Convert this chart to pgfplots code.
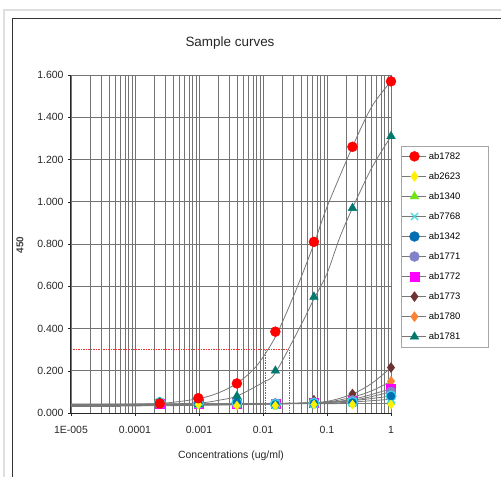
\documentclass[border=0pt]{standalone}
\usepackage{pgfplots}
\pgfplotsset{compat=1.18}
\usepackage{fontspec}
\setmainfont{Liberation Sans}
\definecolor{gridc}{RGB}{115,115,115}
\definecolor{curvec}{RGB}{120,120,120}
\definecolor{guide}{RGB}{240,50,50}
\definecolor{c1782}{RGB}{255,0,0}
\definecolor{c2623}{RGB}{255,240,0}
\definecolor{c1340}{RGB}{110,230,20}
\definecolor{c7768}{RGB}{60,220,230}
\definecolor{c1342}{RGB}{0,110,180}
\definecolor{c1771}{RGB}{130,130,200}
\definecolor{c1772}{RGB}{255,0,255}
\definecolor{c1773}{RGB}{110,50,50}
\definecolor{c1780}{RGB}{250,130,50}
\definecolor{c1781}{RGB}{0,120,110}
\begin{document}
\begin{tikzpicture}
\useasboundingbox (-71bp,-64bp) rectangle (430bp,413bp);
% outer frame
\fill[gray!25] (-68bp,-64bp) rectangle (-66bp,404bp);
\fill[gray!25] (-66bp,402bp) rectangle (430bp,404bp);
\draw[black!80, line width=1.2bp] (-58.5bp,-64bp) -- (-58.5bp,394.5bp) -- (430bp,394.5bp);
\begin{axis}[
    at={(0,0)}, anchor=south west,
    scale only axis,
    width=320bp, height=338bp,
    xmode=log,
    xmin=1e-5, xmax=1,
    ymin=0, ymax=1.6,
    log basis x=10,
    xtick={1e-5,1e-4,1e-3,1e-2,1e-1,1},
    xticklabels={1E-005,0.0001,0.001,0.01,0.1,1},
    minor xtick={2e-5,3e-5,4e-5,5e-5,6e-5,7e-5,8e-5,9e-5,
                 2e-4,3e-4,4e-4,5e-4,6e-4,7e-4,8e-4,9e-4,
                 2e-3,3e-3,4e-3,5e-3,6e-3,7e-3,8e-3,9e-3,
                 0.02,0.03,0.04,0.05,0.06,0.07,0.08,0.09,
                 0.2,0.3,0.4,0.5,0.6,0.7,0.8,0.9},
    ytick={0,0.2,0.4,0.6,0.8,1.0,1.2,1.4,1.6},
    yticklabel={\pgfmathprintnumber[fixed,fixed zerofill,precision=3]{\tick}},
    /pgf/number format/assume math mode=true,
    tick label style={font=\fontsize{10.5}{12}\selectfont, text=black!85},
    xticklabel style={yshift=-7bp},
    yticklabel style={xshift=-1bp},
    grid=both,
    major grid style={gridc, line width=0.9bp},
    minor grid style={gridc, line width=0.9bp},
    axis x line*=bottom, axis y line*=left,
    axis line style={black!85, line width=1bp, -},
    tick align=outside,
    major tick length=3bp,
    minor tick length=0pt,
    x tick style={black!85},
    y tick style={black!85},
    clip=false,
    legend style={at={(1.031,0.79)}, anchor=north west,
        draw=gray!70, font=\fontsize{9.5}{11}\selectfont,
        row sep=7.7bp, inner xsep=1bp, inner ysep=4bp,
        cells={anchor=west, text width=56bp}},
    legend image code/.code={
        \draw[curvec, line width=0.7bp] (0bp,0bp) -- (24bp,0bp);
        \draw[#1] plot coordinates {(12bp,0bp)};
    },
]
% legend entries
\addlegendimage{only marks, mark=*, mark size=5bp, draw=c1782, fill=c1782}
\addlegendentry{ab1782}
\addlegendimage{only marks, mark=diamond*, mark size=5bp, draw=c2623, fill=c2623}
\addlegendentry{ab2623}
\addlegendimage{only marks, mark=triangle*, mark size=5bp, draw=c1340, fill=c1340}
\addlegendentry{ab1340}
\addlegendimage{only marks, mark=x, mark size=5bp, draw=c7768, line width=1.2bp}
\addlegendentry{ab7768}
\addlegendimage{only marks, mark=*, mark size=5bp, draw=c1342, fill=c1342}
\addlegendentry{ab1342}
\addlegendimage{only marks, mark=*, mark size=5bp, draw=c1771, fill=c1771}
\addlegendentry{ab1771}
\addlegendimage{only marks, mark=square*, mark size=4.5bp, draw=c1772, fill=c1772}
\addlegendentry{ab1772}
\addlegendimage{only marks, mark=diamond*, mark size=5bp, draw=c1773, fill=c1773}
\addlegendentry{ab1773}
\addlegendimage{only marks, mark=diamond*, mark size=5bp, draw=c1780, fill=c1780}
\addlegendentry{ab1780}
\addlegendimage{only marks, mark=triangle*, mark size=5bp, draw=c1781, fill=c1781}
\addlegendentry{ab1781}

% red dotted guide lines (value 0.300 and where the two curves reach it)
\addplot[forget plot, no marks, draw=guide, line width=0.9bp, dash pattern=on 1.5bp off 1bp] coordinates {(1e-5,0.3) (0.0255,0.3)};
\addplot[forget plot, no marks, draw=guide, line width=0.9bp, dash pattern=on 1.5bp off 1bp] coordinates {(0.011,0.3) (0.011,0)};
\addplot[forget plot, no marks, draw=guide, line width=0.9bp, dash pattern=on 1.5bp off 1bp] coordinates {(0.0255,0.3) (0.0255,0)};

% fitted curves
\addplot[forget plot, curvec, line width=0.8bp, smooth] coordinates {
 (1e-5,0.040) (1e-4,0.042) (3.16e-4,0.048) (1e-3,0.068) (2e-3,0.095) (3.9e-3,0.14)
 (0.0078,0.22) (0.0156,0.36) (0.0316,0.57) (0.0625,0.80) (0.1,0.975) (0.25,1.26) (0.5,1.45) (1,1.57)};
\addplot[forget plot, curvec, line width=0.8bp, smooth] coordinates {
 (1e-5,0.036) (1e-4,0.038) (1e-3,0.048) (2e-3,0.06) (3.9e-3,0.08) (0.01,0.145)
 (0.0156,0.19) (0.0398,0.42) (0.0625,0.54) (0.1,0.66) (0.158,0.83) (0.25,0.97) (0.5,1.16) (1,1.31)};
\addplot[forget plot, curvec, line width=0.8bp, smooth] coordinates {
 (1e-5,0.032) (1e-3,0.036) (0.0316,0.045) (0.1,0.055) (0.25,0.09) (0.5,0.14) (1,0.215)};
\addplot[forget plot, curvec, line width=0.8bp, smooth] coordinates {
 (1e-5,0.034) (1e-3,0.038) (0.0316,0.045) (0.1,0.052) (0.25,0.075) (0.5,0.105) (1,0.15)};
\addplot[forget plot, curvec, line width=0.8bp, smooth] coordinates {
 (1e-5,0.036) (1e-3,0.040) (0.0316,0.045) (0.1,0.05) (0.25,0.065) (0.5,0.088) (1,0.115)};
\addplot[forget plot, curvec, line width=0.8bp, smooth] coordinates {
 (1e-5,0.038) (1e-3,0.041) (0.0316,0.046) (0.1,0.05) (0.25,0.06) (0.5,0.078) (1,0.10)};
\addplot[forget plot, curvec, line width=0.8bp, smooth] coordinates {
 (1e-5,0.040) (1e-3,0.042) (0.0316,0.046) (0.1,0.05) (0.25,0.058) (1,0.08)};
\addplot[forget plot, curvec, line width=0.8bp, smooth] coordinates {
 (1e-5,0.041) (1e-3,0.043) (0.1,0.048) (0.25,0.052) (1,0.065)};
\addplot[forget plot, curvec, line width=0.8bp] coordinates {(1e-5,0.030) (6e-5,0.030)};
\addplot[forget plot, curvec, line width=0.8bp] coordinates {(1e-5,0.042) (1,0.045)};

% data markers
\addplot[forget plot, only marks, mark=triangle*, mark size=4.5bp, draw=c1340, fill=c1340] coordinates {
 (2.44e-4,0.045) (9.77e-4,0.045) (3.91e-3,0.045) (0.0156,0.045) (0.0625,0.05) (0.25,0.05) (1,0.05)};
\addplot[forget plot, only marks, mark=diamond*, mark size=5bp, draw=c1780, fill=c1780] coordinates {
 (2.44e-4,0.045) (9.77e-4,0.045) (3.91e-3,0.045) (0.0156,0.045) (0.0625,0.05) (0.25,0.07) (1,0.15)};
\addplot[forget plot, only marks, mark=diamond*, mark size=5bp, draw=c1773, fill=c1773] coordinates {
 (2.44e-4,0.045) (9.77e-4,0.045) (3.91e-3,0.045) (0.0156,0.045) (0.0625,0.06) (0.25,0.09) (1,0.215)};
\addplot[forget plot, only marks, mark=square*, mark size=4.5bp, draw=c1772, fill=c1772] coordinates {
 (2.44e-4,0.045) (9.77e-4,0.045) (3.91e-3,0.045) (0.0156,0.045) (0.0625,0.05) (0.25,0.06) (1,0.115)};
\addplot[forget plot, only marks, mark=*, mark size=5bp, draw=c1771, fill=c1771] coordinates {
 (2.44e-4,0.05) (9.77e-4,0.045) (3.91e-3,0.045) (0.0156,0.045) (0.0625,0.05) (0.25,0.06) (1,0.10)};
\addplot[forget plot, only marks, mark=x, mark size=5.5bp, draw=c7768, line width=1.5bp] coordinates {
 (2.44e-4,0.045) (9.77e-4,0.045) (3.91e-3,0.045) (0.0156,0.045) (0.0625,0.045) (0.25,0.05) (1,0.065)};
\addplot[forget plot, only marks, mark=*, mark size=5bp, draw=c7768, fill=c1342, line width=1bp] coordinates {
 (2.44e-4,0.05) (9.77e-4,0.045) (3.91e-3,0.05) (0.0156,0.04) (0.0625,0.045) (0.25,0.05) (1,0.08)};
\addplot[forget plot, only marks, mark=triangle*, mark size=5bp, draw=c1781, fill=c1781] coordinates {
 (2.44e-4,0.05) (9.77e-4,0.04) (3.91e-3,0.08) (0.0156,0.20) (0.0625,0.55) (0.25,0.97) (1,1.31)};
\addplot[forget plot, only marks, mark=diamond*, mark size=4.5bp, draw=c2623, fill=c2623] coordinates {
 (9.77e-4,0.04) (3.91e-3,0.035) (0.0156,0.035) (0.0625,0.04) (0.25,0.04) (1,0.04)};
\addplot[forget plot, only marks, mark=*, mark size=5bp, draw=c1782, fill=c1782] coordinates {
 (2.44e-4,0.045) (9.77e-4,0.07) (3.91e-3,0.14) (0.0156,0.385) (0.0625,0.81) (0.25,1.26) (1,1.57)};
\end{axis}
\node[font=\fontsize{13.5}{15}\selectfont, text=black!85] at (159bp,370bp) {Sample curves};
\node[font=\fontsize{10.5}{12}\selectfont, text=black!85] at (160bp,-43bp) {Concentrations (ug/ml)};
\node[font=\bfseries\fontsize{10}{12}\selectfont, text=black!75, rotate=90] at (-51bp,168bp) {450};
\end{tikzpicture}
\end{document}
